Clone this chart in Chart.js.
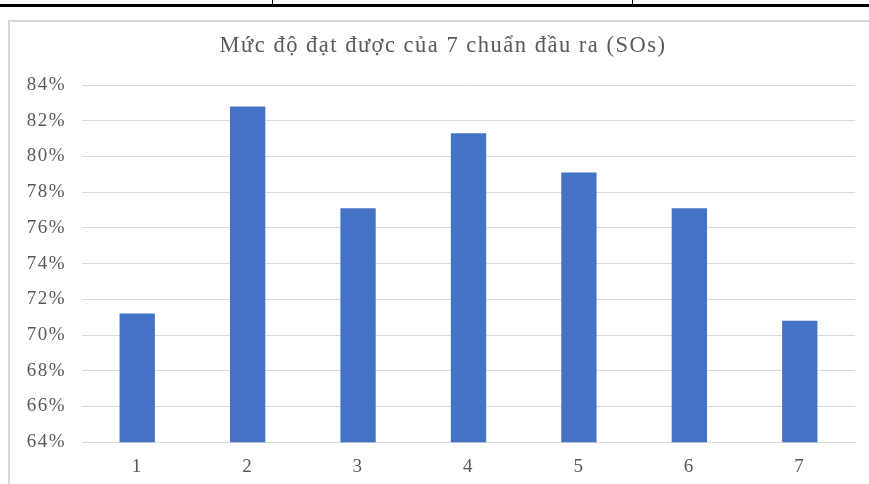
<!DOCTYPE html>
<html>
<head>
<meta charset="utf-8">
<script src="https://cdn.jsdelivr.net/npm/chart.js@4"></script>
<style>
    body { margin: 0; background: #fff; overflow: hidden; }
    .rule { position: absolute; background: #000; }
    #box { position: absolute; left: 8px; top: 20px; width: 880px; height: 480px; border: 2px solid #d9d9d9; }
    #soChart { position: absolute; left: 0; top: 0; }
</style>
</head>
<body>
<div class="rule" style="left:0;top:4px;width:869px;height:3px"></div>
<div class="rule" style="left:272px;top:0;width:1px;height:5px"></div>
<div class="rule" style="left:632px;top:0;width:1px;height:5px"></div>
<div id="box">
    <canvas id="soChart" width="860" height="462"></canvas>
</div>
<script>
var categories = ["1", "2", "3", "4", "5", "6", "7"];
var values = [71.2, 82.8, 77.1, 81.3, 79.1, 77.1, 70.8];
var yTicks = [64, 66, 68, 70, 72, 74, 76, 78, 80, 82, 84];

// Excel-like wide text spacing, and title centred on the whole frame
var spacingPlugin = {
    id: "spacing",
    beforeLayout: function (chart) { chart.ctx.letterSpacing = "1.5px"; },
    afterLayout: function (chart) {
        if (chart.titleBlock) chart.titleBlock.left += 21;
    },
    beforeDraw: function (chart) { chart.ctx.letterSpacing = "1.5px"; }
};

document.addEventListener("DOMContentLoaded", function () {
    var font = "'Liberation Serif', 'Times New Roman', serif";
    var canvas = document.getElementById("soChart");
    new Chart(canvas, {
        type: "bar",
        data: {
            labels: categories,
            datasets: [{
                label: "SOs",
                data: values,
                backgroundColor: "#4472c4",
                barPercentage: 0.32,
                categoryPercentage: 1
            }]
        },
        options: {
            responsive: false,
            animation: false,
            layout: { padding: { left: 0, right: 15, top: 0, bottom: -7 } },
            plugins: {
                legend: { display: false },
                tooltip: { enabled: false },
                title: {
                    display: true,
                    text: "Mức độ đạt được của 7 chuẩn đầu ra (SOs)",
                    color: "#595959",
                    font: { family: font, size: 22.5, weight: "normal" },
                    padding: { top: 11, bottom: 25 }
                }
            },
            scales: {
                x: {
                    grid: { display: false, drawTicks: false },
                    border: { display: true, color: "#d9d9d9" },
                    ticks: { color: "#595959", font: { family: font, size: 19 }, padding: 13 }
                },
                y: {
                    min: 64,
                    max: 84,
                    afterBuildTicks: function (scale) {
                        scale.ticks = yTicks.map(function (v) { return { value: v }; });
                    },
                    afterFit: function (scale) { scale.width = 72; },
                    grid: { color: "#d9d9d9", drawTicks: false },
                    border: { display: false },
                    ticks: {
                        color: "#595959",
                        font: { family: font, size: 19 },
                        padding: 16,
                        callback: function (v) { return v + "%"; }
                    }
                }
            }
        },
        plugins: [spacingPlugin]
    });
});
</script>
</body>
</html>
